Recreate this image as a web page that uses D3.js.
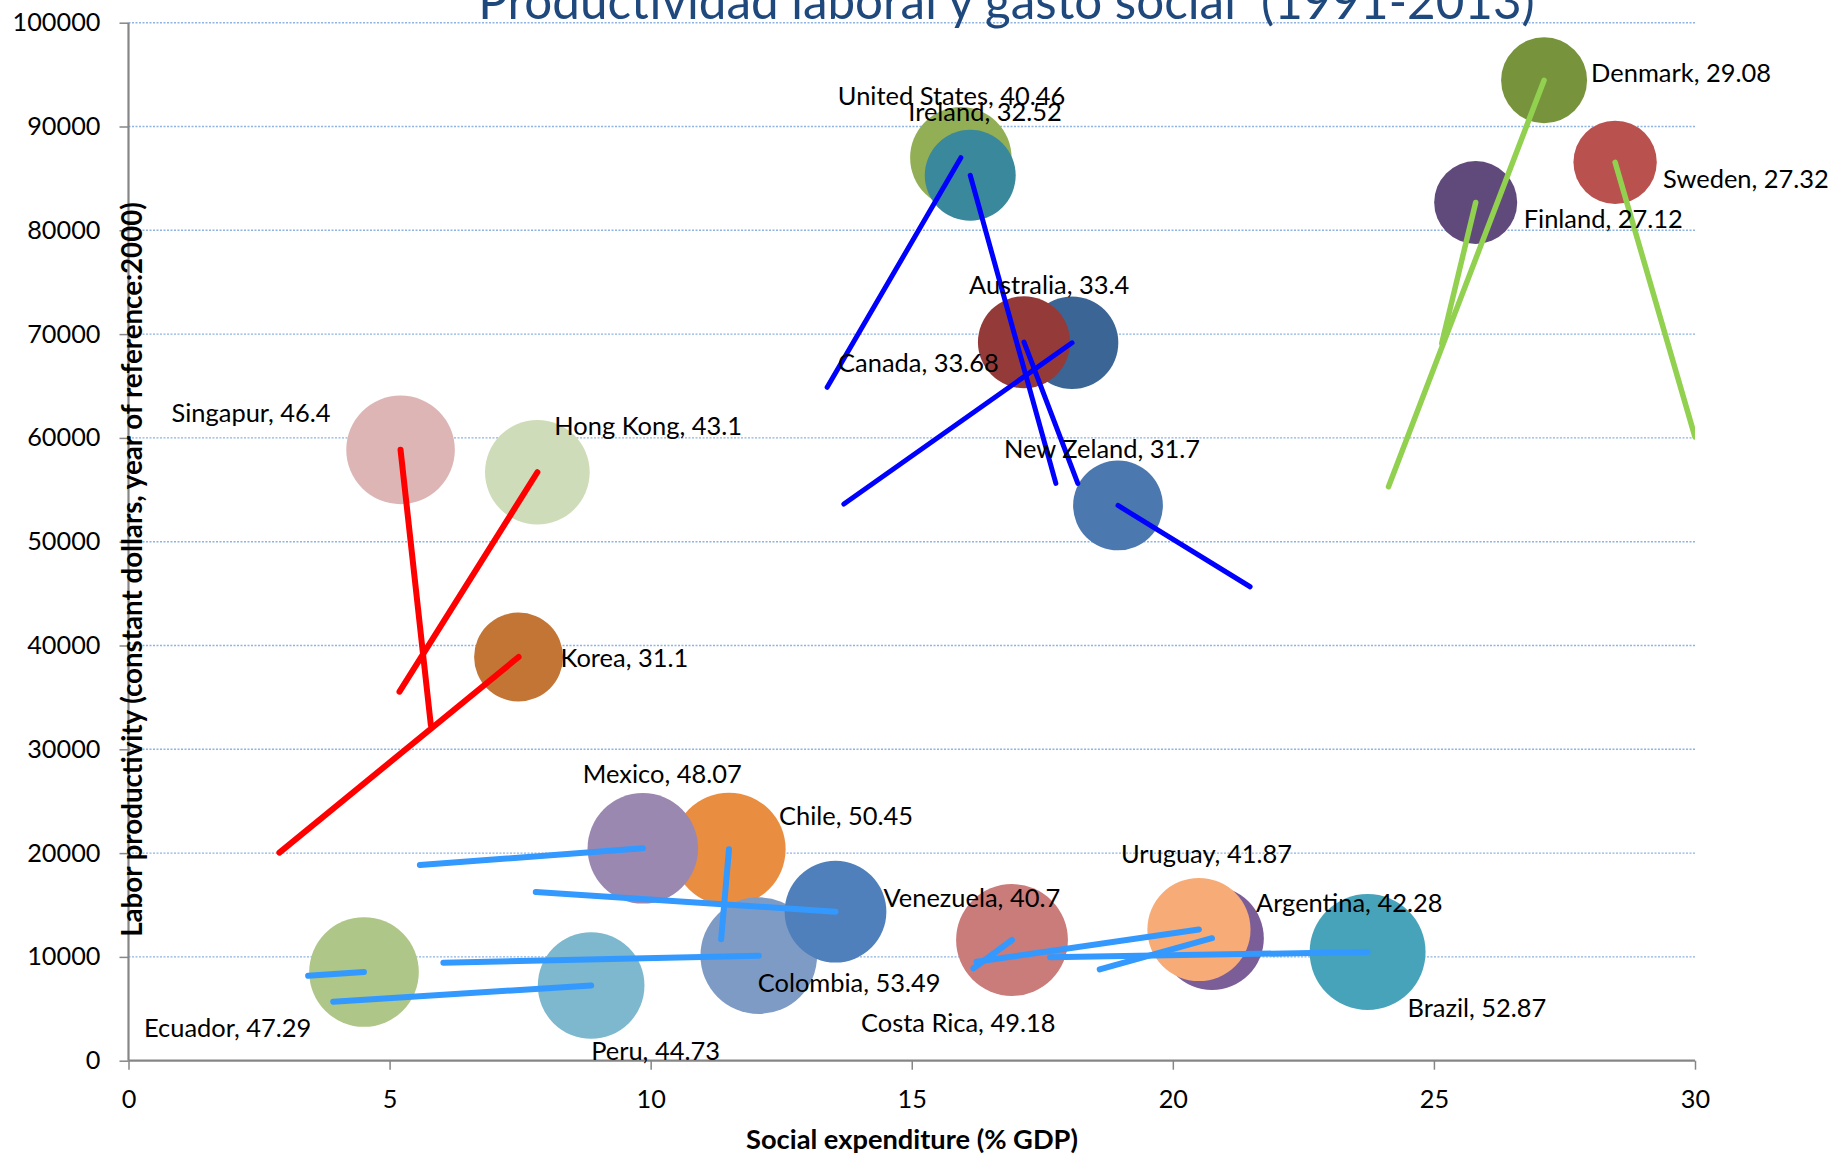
<!DOCTYPE html>
<html>
<head>
<meta charset="utf-8">
<script src="https://cdn.jsdelivr.net/npm/d3@7/dist/d3.min.js"></script>
<style>
  body { margin: 0; background: #fff; }
  svg { display: block; }
</style>
</head>
<body>
<div id="chart"></div>
<script>
// data: bubble = last point, line goes back to the first point
var countries = ["Denmark", "Sweden", "Finland", "United States", "Ireland", "Canada", "Australia", "New Zeland",
                 "Singapur", "Hong Kong", "Korea", "Chile", "Mexico", "Colombia", "Venezuela", "Ecuador", "Peru",
                 "Costa Rica", "Argentina", "Uruguay", "Brazil"];
var groups = ["nordic", "nordic", "nordic", "anglo", "anglo", "anglo", "anglo", "anglo",
              "asia", "asia", "asia", "latam", "latam", "latam", "latam", "latam", "latam",
              "latam", "latam", "latam", "latam"];
var socialExp = [27.11, 28.47, 25.80, 15.94, 16.12, 18.07, 17.15, 18.95,
                 5.21, 7.83, 7.47, 11.50, 9.85, 12.07, 13.54, 4.51, 8.86,
                 16.92, 20.75, 20.50, 23.73];
var productivity = [94450, 86550, 82680, 86990, 85300, 69160, 69220, 53490,
                    58850, 56690, 38890, 20370, 20460, 10120, 14360, 8545, 7245,
                    11630, 11800, 12640, 10470];
var bubbleSize = [29.08, 27.32, 27.12, 40.46, 32.52, 33.68, 33.4, 31.7,
                  46.4, 43.1, 31.1, 50.45, 48.07, 53.49, 40.7, 47.29, 44.73,
                  49.18, 42.28, 41.87, 52.87];
var socialExpStart = [24.13, 30.0, 25.15, 13.38, 17.76, 13.70, 18.18, 21.48,
                      5.79, 5.19, 2.89, 11.35, 5.58, 6.03, 7.80, 3.44, 3.92,
                      16.18, 18.60, 16.24, 17.65];
var productivityStart = [55300, 60100, 69110, 64870, 55620, 53630, 55620, 45660,
                         32340, 35550, 20040, 11700, 18850, 9440, 16250, 8190, 5690,
                         8900, 8800, 9540, 9960];
var xTicks = [0, 5, 10, 15, 20, 25, 30];
var yTicks = [0, 10000, 20000, 30000, 40000, 50000, 60000, 70000, 80000, 90000, 100000];

var titleText = "Productividad laboral y gasto social  (1991-2013)",
    xTitle = "Social expenditure (% GDP)",
    yTitle = "Labor productivity (constant dollars, year of reference:2000)";

// styles
var bubbleColor = {
  "Denmark": "#77933C", "Sweden": "#B9514E", "Finland": "#604A7B", "United States": "#92AF55",
  "Ireland": "#3A889B", "Canada": "#3B6594", "Australia": "#943B3A", "New Zeland": "#4A78AF",
  "Singapur": "#DDB5B4", "Hong Kong": "#CFDCB9", "Korea": "#C37535", "Chile": "#E98D41",
  "Mexico": "#9B88B1", "Colombia": "#7E9BC6", "Venezuela": "#4F80BB", "Ecuador": "#AEC687",
  "Peru": "#7DB8CE", "Costa Rica": "#C97C7A", "Argentina": "#7B5E98", "Uruguay": "#F7AC78",
  "Brazil": "#47A3B9"
};
var lineColor = {nordic: "#92D050", anglo: "#0000FF", asia: "#FF0000", latam: "#3399FF"};
var lineWidth = {nordic: 5.5, anglo: 5, asia: 6, latam: 6};
// label offset from bubble centre: [left edge, baseline] in px
var labelOffset = {
  "Denmark": [47, 2], "Sweden": [48, 26], "Finland": [48, 26], "United States": [-123, -53],
  "Ireland": [-62, -54], "Australia": [-55, -48], "Canada": [-234, 29], "New Zeland": [-114, -47],
  "Singapur": [-229, -28], "Hong Kong": [17, -37], "Korea": [42, 10], "Mexico": [-60, -65],
  "Chile": [50, -24], "Colombia": [-1, 36], "Venezuela": [48, -5], "Ecuador": [-220, 65],
  "Peru": [0, 75], "Costa Rica": [-151, 92], "Uruguay": [-78, -66], "Argentina": [44, -26],
  "Brazil": [40, 65]
};

var FONT = "Lato, 'Open Sans', sans-serif";
var W = 1843, H = 1157;
var plot = {left: 128.5, right: 1695, top: 22.7, bottom: 1060.7};

var svg = d3.select("#chart").append("svg")
    .attr("width", W)
    .attr("height", H)
    .style("background", "#fff");

// size a font so a string comes out at a given width
function fitSize(text, weight, target) {
  var t = svg.append("text")
      .style("font-family", FONT)
      .style("font-weight", weight)
      .style("font-size", "100px")
      .text(text);
  var w = t.node().getComputedTextLength();
  t.remove();
  return 100 * target / w;
}

var tickSize = fitSize("100000", "normal", 88),
    labelSize = fitSize("Denmark, 29.08", "normal", 180),
    titleSize = fitSize(titleText, "normal", 1044),
    yTitleSize = fitSize(yTitle, "bold", 735),
    xTitleSize = fitSize(xTitle, "bold", 332);

var x = d3.scaleLinear().domain([0, 30]).range([plot.left, plot.right]),
    y = d3.scaleLinear().domain([0, 100000]).range([plot.bottom, plot.top]),
    r = d3.scaleSqrt().domain([0, d3.max(bubbleSize)]).range([0, 58.3]);

var data = countries.map(function(c, i) {
  return {
    name: c, group: groups[i],
    x: socialExp[i], y: productivity[i], size: bubbleSize[i],
    x0: socialExpStart[i], y0: productivityStart[i]
  };
});

svg.append("clipPath").attr("id", "plot-clip")
  .append("rect")
    .attr("x", plot.left).attr("y", plot.top)
    .attr("width", plot.right - plot.left).attr("height", plot.bottom - plot.top);

// gridlines
svg.append("g")
    .attr("class", "grid")
  .selectAll("line")
  .data(yTicks.slice(1))
  .enter().append("line")
    .attr("x1", plot.left)
    .attr("x2", plot.right)
    .attr("y1", function(d) { return y(d); })
    .attr("y2", function(d) { return y(d); })
    .style("stroke", "#8DB4E2")
    .style("stroke-width", 1.4)
    .style("stroke-dasharray", "2,1.5");

// axes
var yAxis = d3.axisLeft(y).tickValues(yTicks).tickSize(9).tickPadding(19).tickFormat(d3.format("d"));
var xAxis = d3.axisBottom(x).tickValues(xTicks).tickSize(9).tickFormat(d3.format("d"));

var gy = svg.append("g")
    .attr("transform", "translate(" + plot.left + ",0)")
    .call(yAxis);
var gx = svg.append("g")
    .attr("transform", "translate(0," + plot.bottom + ")")
    .call(xAxis);

[gx, gy].forEach(function(g) {
  g.select(".domain").style("stroke", "#868686").style("stroke-width", 2.2);
  g.selectAll(".tick line").style("stroke", "#868686").style("stroke-width", 1.5);
  g.selectAll(".tick text")
      .style("font-family", FONT)
      .style("font-size", tickSize + "px")
      .style("fill", "#000");
});
gy.select(".domain").attr("d", "M0," + plot.bottom + "V" + plot.top);
gx.select(".domain").attr("d", "M" + plot.left + ",0H" + plot.right);
gx.selectAll(".tick text").attr("y", 47.5).attr("dy", 0);

// bubbles
svg.append("g")
    .attr("class", "bubbles")
  .selectAll("circle")
  .data(data)
  .enter().append("circle")
    .attr("cx", function(d) { return x(d.x); })
    .attr("cy", function(d) { return y(d.y); })
    .attr("r", function(d) { return r(d.size); })
    .style("fill", function(d) { return bubbleColor[d.name]; });

// lines from first year to last year
svg.append("g")
    .attr("class", "paths")
    .attr("clip-path", "url(#plot-clip)")
  .selectAll("line")
  .data(data)
  .enter().append("line")
    .attr("x1", function(d) { return x(d.x); })
    .attr("y1", function(d) { return y(d.y); })
    .attr("x2", function(d) { return x(d.x0); })
    .attr("y2", function(d) { return y(d.y0); })
    .style("stroke", function(d) { return lineColor[d.group]; })
    .style("stroke-width", function(d) { return lineWidth[d.group]; })
    .style("stroke-linecap", "round");

// data labels
svg.append("g")
    .attr("class", "labels")
  .selectAll("text")
  .data(data)
  .enter().append("text")
    .attr("x", function(d) { return x(d.x) + labelOffset[d.name][0]; })
    .attr("y", function(d) { return y(d.y) + labelOffset[d.name][1]; })
    .style("font-family", FONT)
    .style("font-size", labelSize + "px")
    .style("fill", "#000")
    .text(function(d) { return d.name + ", " + d.size; });

// titles
svg.append("text")
    .attr("x", 1006.5)
    .attr("y", 18.5)
    .attr("text-anchor", "middle")
    .style("font-family", FONT)
    .style("font-size", titleSize + "px")
    .style("fill", "#1F497D")
    .style("white-space", "pre")
    .text(titleText);

svg.append("text")
    .attr("x", 912)
    .attr("y", 1149)
    .attr("text-anchor", "middle")
    .style("font-family", FONT)
    .style("font-weight", "bold")
    .style("font-size", xTitleSize + "px")
    .text(xTitle);

svg.append("text")
    .attr("transform", "translate(142,569.5) rotate(-90)")
    .attr("text-anchor", "middle")
    .style("font-family", FONT)
    .style("font-weight", "bold")
    .style("font-size", yTitleSize + "px")
    .text(yTitle);
</script>
</body>
</html>
